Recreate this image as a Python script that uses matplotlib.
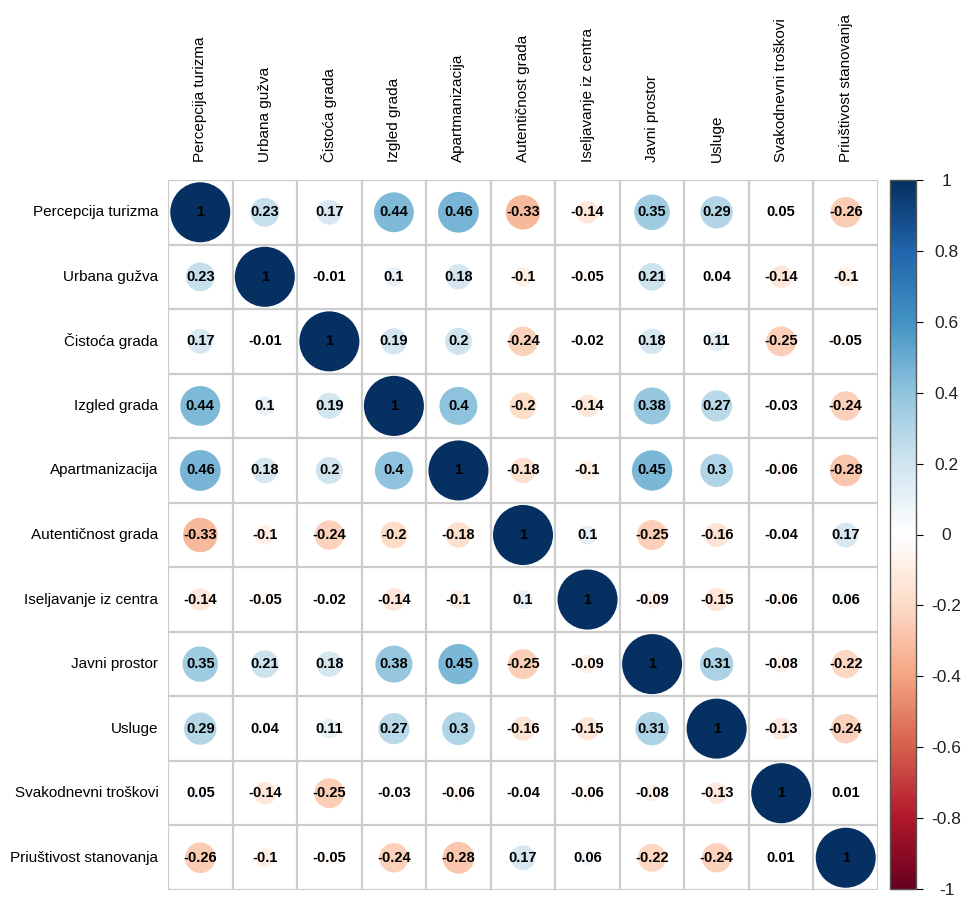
import matplotlib.pyplot as plt
from matplotlib.colors import LinearSegmentedColormap, Normalize
from matplotlib.patches import Circle
import matplotlib as mpl

plt.rcParams['font.family'] = ['Liberation Sans', 'DejaVu Sans']

labels = ["Percepcija turizma", "Urbana gužva", "Čistoća grada", "Izgled grada",
          "Apartmanizacija", "Autentičnost grada", "Iseljavanje iz centra",
          "Javni prostor", "Usluge", "Svakodnevni troškovi", "Priuštivost stanovanja"]

corr = [
    [1, 0.23, 0.17, 0.44, 0.46, -0.33, -0.14, 0.35, 0.29, 0.05, -0.26],
    [0.23, 1, -0.01, 0.1, 0.18, -0.1, -0.05, 0.21, 0.04, -0.14, -0.1],
    [0.17, -0.01, 1, 0.19, 0.2, -0.24, -0.02, 0.18, 0.11, -0.25, -0.05],
    [0.44, 0.1, 0.19, 1, 0.4, -0.2, -0.14, 0.38, 0.27, -0.03, -0.24],
    [0.46, 0.18, 0.2, 0.4, 1, -0.18, -0.1, 0.45, 0.3, -0.06, -0.28],
    [-0.33, -0.1, -0.24, -0.2, -0.18, 1, 0.1, -0.25, -0.16, -0.04, 0.17],
    [-0.14, -0.05, -0.02, -0.14, -0.1, 0.1, 1, -0.09, -0.15, -0.06, 0.06],
    [0.35, 0.21, 0.18, 0.38, 0.45, -0.25, -0.09, 1, 0.31, -0.08, -0.22],
    [0.29, 0.04, 0.11, 0.27, 0.3, -0.16, -0.15, 0.31, 1, -0.13, -0.24],
    [0.05, -0.14, -0.25, -0.03, -0.06, -0.04, -0.06, -0.08, -0.13, 1, 0.01],
    [-0.26, -0.1, -0.05, -0.24, -0.28, 0.17, 0.06, -0.22, -0.24, 0.01, 1],
]

cb_ticks = [-1, -0.8, -0.6, -0.4, -0.2, 0, 0.2, 0.4, 0.6, 0.8, 1]

# RdBu palette like corrplot
cols = ["#67001F", "#B2182B", "#D6604D", "#F4A582", "#FDDBC7", "#FFFFFF",
        "#D1E5F0", "#92C5DE", "#4393C3", "#2166AC", "#053061"]
cmap = LinearSegmentedColormap.from_list("rdbu", cols, N=200)
norm = Normalize(-1, 1)

W, H = 965, 897
fig = plt.figure(figsize=(W / 100, H / 100), dpi=100)

gx0, gx1, gy0, gy1 = 168, 878, 180, 890
ax = fig.add_axes([gx0 / W, (H - gy1) / H, (gx1 - gx0) / W, (gy1 - gy0) / H])
n = len(labels)
ax.set_xlim(0.5, n + 0.5)
ax.set_ylim(n + 0.5, 0.5)
ax.set_aspect('equal')
for s in ax.spines.values():
    s.set_visible(False)
ax.set_xticks([])
ax.set_yticks([])

# grid
for k in range(n + 1):
    ax.axhline(k + 0.5, color='#cccccc', lw=1.6, zorder=1)
    ax.axvline(k + 0.5, color='#cccccc', lw=1.6, zorder=1)

for i in range(n):
    for j in range(n):
        r = corr[i][j]
        rad = 0.465 * abs(r) ** 0.5
        ax.add_patch(Circle((j + 1, i + 1), rad, facecolor=cmap(norm(r)),
                            edgecolor='none', zorder=2))
        txt = "1" if r == 1 else ("%g" % r)
        ax.text(j + 1, i + 1, txt, ha='center', va='center', fontsize=10.5,
                fontweight='bold', color='black', zorder=3)

# row labels
for i, lab in enumerate(labels):
    ax.text(0.35, i + 1, lab, ha='right', va='center', fontsize=11)
# column labels
for j, lab in enumerate(labels):
    ax.text(j + 1, 0.22, lab, ha='center', va='bottom', rotation=90, fontsize=11)

# colorbar
cax = fig.add_axes([890 / W, (H - 889) / H, 26 / W, 709 / H])
cb = mpl.colorbar.ColorbarBase(cax, cmap=cmap, norm=norm)
cb.set_ticks(cb_ticks)
cb.set_ticklabels(["%g" % t for t in cb_ticks])
cb.outline.set_linewidth(1.0)
cb.outline.set_edgecolor('#555555')
cax.tick_params(labelsize=12.5, length=5, width=0.8, pad=17, colors='black')
for t in cax.get_yticklabels():
    t.set_horizontalalignment('center')
    t.set_color('#222222')

fig.savefig("out.png", dpi=100)
